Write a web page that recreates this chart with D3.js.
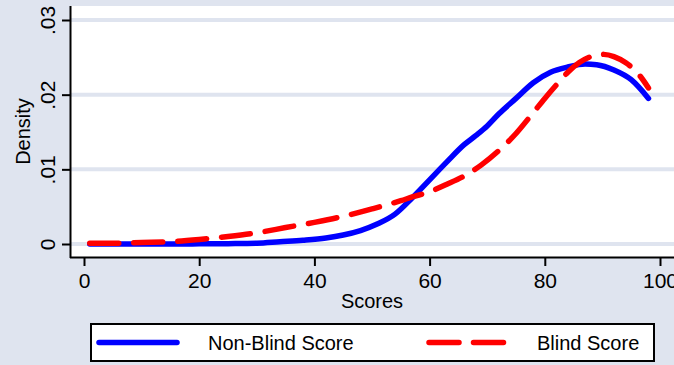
<!DOCTYPE html>
<html><head><meta charset="utf-8">
<script src="https://cdn.jsdelivr.net/npm/d3@7"></script>
<style>body{margin:0;background:#dfe4ef;}svg{display:block;}</style>
</head><body>
<svg id="c" width="674" height="365"></svg>
<script>
const xTicks = [0, 20, 40, 60, 80, 100];
const yTicks = [0, 0.01, 0.02, 0.03];
const yTickLabels = ["0", ".01", ".02", ".03"];
const nonBlindX = [1,5,10,15,20,25,30,34,38,42,45,48,51,54,57,60,63,66,68,70,72,75,78,81,84,87,89,92,95,98];
const nonBlindY = [0,0,0,0,0.00002,0.00005,0.0001,0.0003,0.0005,0.0008,0.0012,0.0018,0.0027,0.0040,0.0062,0.0086,0.0110,0.0133,0.0145,0.0158,0.0174,0.0195,0.0216,0.0230,0.0237,0.0241,0.0240,0.0233,0.0220,0.0195];
const blindX = [1,5,10,15,20,25,30,35,40,45,50,55,57,60,63,66,69,72,75,78,80,82,84,86,88,90,92,94,96,98];
const blindY = [0.0001,0.0001,0.0002,0.0003,0.0006,0.0010,0.0015,0.0022,0.0029,0.0037,0.0047,0.0058,0.0063,0.0070,0.0080,0.0091,0.0106,0.0125,0.0148,0.0176,0.0195,0.0213,0.0230,0.0243,0.0251,0.0254,0.0251,0.0243,0.0230,0.0209];
const legendLabels = ["Non-Blind Score", "Blind Score"];

const svg = d3.select("#c");
const font = "'Liberation Sans', Arial, sans-serif";
const bg = "#dfe4ef";
const x = d3.scaleLinear().domain([0, 100]).range([84, 660]);
const y = d3.scaleLinear().domain([0, 0.03]).range([244, 20]);
const plot = {left: 71, right: 674, top: 6, bottom: 257};

svg.append("rect").attr("width", 674).attr("height", 365).attr("fill", bg);
svg.append("rect").attr("x", plot.left).attr("y", plot.top)
  .attr("width", plot.right - plot.left).attr("height", plot.bottom - plot.top).attr("fill", "#fff");

// grid
svg.append("g").selectAll("line").data(yTicks).join("line")
  .attr("x1", plot.left).attr("x2", plot.right)
  .attr("y1", d => y(d)).attr("y2", d => y(d))
  .attr("stroke", bg).attr("stroke-width", 4);

// curves
const line = d3.line().x(d => x(d[0])).y(d => y(d[1])).curve(d3.curveMonotoneX);
svg.append("path").datum(nonBlindX.map((v, i) => [v, nonBlindY[i]]))
  .attr("d", line).attr("fill", "none").attr("stroke", "#0000ff")
  .attr("stroke-width", 5.5).attr("stroke-linecap", "round").attr("stroke-linejoin", "round");
svg.append("path").datum(blindX.map((v, i) => [v, blindY[i]]))
  .attr("d", line).attr("fill", "none").attr("stroke", "#ff0000")
  .attr("stroke-width", 5.5).attr("stroke-linecap", "round").attr("stroke-linejoin", "round")
  .attr("stroke-dasharray", "29,15");

// y axis
const yAxis = d3.axisLeft(y).tickValues(yTicks).tickSize(9).tickFormat((d, i) => yTickLabels[i]);
const gy = svg.append("g").attr("transform", `translate(${plot.left},0)`).call(yAxis);
gy.select(".domain").attr("d", `M-0.5,${plot.top}V${plot.bottom + 1}`).attr("stroke", "#000").attr("stroke-width", 2);
gy.selectAll(".tick line").attr("stroke", "#000").attr("stroke-width", 2);
gy.selectAll(".tick text").attr("font-family", font).attr("font-size", 21).attr("fill", "#000")
  .attr("x", null).attr("dy", null).attr("text-anchor", "middle")
  .attr("transform", "translate(-16,0) rotate(-90)");

// x axis
const xAxis = d3.axisBottom(x).tickValues(xTicks).tickSize(9).tickFormat(d3.format("d"));
const gx = svg.append("g").attr("transform", `translate(0,${plot.bottom})`).call(xAxis);
gx.select(".domain").attr("d", `M${plot.left - 1},0.5H${plot.right}`).attr("stroke", "#000").attr("stroke-width", 2);
gx.selectAll(".tick line").attr("stroke", "#000").attr("stroke-width", 2);
gx.selectAll(".tick text").attr("font-family", font).attr("font-size", 21).attr("fill", "#000")
  .attr("y", 16.5);

// titles
svg.append("text").attr("x", 372).attr("y", 308)
  .attr("text-anchor", "middle").attr("font-family", font).attr("font-size", 20).text("Scores");
svg.append("text").attr("transform", `translate(30,${(plot.top + plot.bottom) / 2}) rotate(-90)`)
  .attr("text-anchor", "middle").attr("font-family", font).attr("font-size", 20).text("Density");

// legend
const lg = svg.append("g");
lg.append("rect").attr("x", 91).attr("y", 324).attr("width", 563).attr("height", 37)
  .attr("fill", "#fff").attr("stroke", "#000").attr("stroke-width", 2);
lg.append("line").attr("x1", 99).attr("x2", 177).attr("y1", 342.5).attr("y2", 342.5)
  .attr("stroke", "#0000ff").attr("stroke-width", 5.5).attr("stroke-linecap", "round");
lg.append("line").attr("x1", 429).attr("x2", 504).attr("y1", 342.5).attr("y2", 342.5)
  .attr("stroke", "#ff0000").attr("stroke-width", 5.5).attr("stroke-linecap", "round")
  .attr("stroke-dasharray", "30,14.5");
lg.append("text").attr("x", 208).attr("y", 350).attr("font-family", font).attr("font-size", 20).text(legendLabels[0]);
lg.append("text").attr("x", 537).attr("y", 350).attr("font-family", font).attr("font-size", 20).text(legendLabels[1]);
</script>
</body></html>
